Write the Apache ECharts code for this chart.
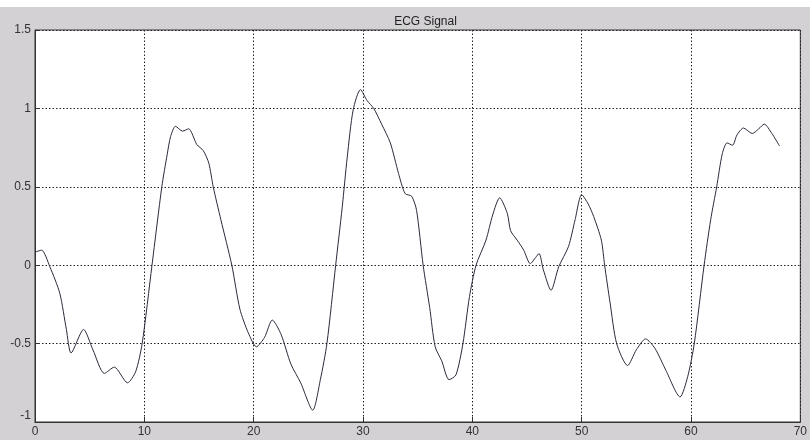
<!DOCTYPE html>
<html>
<head>
<meta charset="utf-8">
<script src="https://cdn.jsdelivr.net/npm/echarts@6/dist/echarts.min.js"></script>
<style>
  html, body { margin: 0; padding: 0; background: #ffffff; }
  #bg { position: absolute; left: 0; top: 7px; width: 810px; height: 433px; background: #d4d1d4; }
  #chart { position: absolute; left: 0; top: 0; width: 810px; height: 440px; }
</style>
</head>
<body>
<div id="bg"></div>
<div id="chart"></div>
<script>
const chartTitle = 'ECG Signal';
const xTicks = [0, 10, 20, 30, 40, 50, 60, 70];
const yTicks = [-1, -0.5, 0, 0.5, 1, 1.5];
const timeValues = [
  0, 0.6, 1.36, 2.27, 2.87, 3.3, 4.44, 5.3, 6.35, 7.25, 8.46, 9.2, 9.8, 10.7,
  11.6, 12.1, 12.4, 12.85, 13.5, 14.05, 14.8, 15.4, 15.9, 16.3, 17.0, 18.0,
  18.74, 19.5, 20.25, 21.0, 21.7, 22.5, 23.4, 24.3, 25.4, 26.1, 26.7, 27.5,
  28.1, 28.56, 29.1, 29.77, 30.37, 30.98, 31.7, 32.5, 33.25, 33.85, 34.45, 34.9,
  35.5, 36.1, 36.6, 37.2, 37.87, 38.5, 39.14, 39.74, 40.34, 41.25, 41.86, 42.5,
  43.2, 43.5, 44.1, 44.7, 45.3, 45.8, 46.1, 46.5, 47.2, 47.9, 48.8, 49.4,
  50.0, 50.6, 51.1, 51.8, 52.1, 52.6, 53.2, 54.2, 55.0, 55.85, 56.7, 57.7,
  59.0, 59.7, 60.3, 61.2, 61.8, 62.35, 62.86, 63.3, 63.8, 64.2, 64.8, 65.6,
  66.2, 66.7, 67.4, 68.1
];
const signalValues = [
  0.083, 0.096, -0.01, -0.18, -0.41, -0.56, -0.41, -0.54, -0.69, -0.65, -0.75, -0.68, -0.50, 0.0,
  0.5, 0.71, 0.82, 0.886, 0.855, 0.87, 0.77, 0.73, 0.65, 0.5, 0.29, 0.0,
  -0.28, -0.43, -0.52, -0.46, -0.35, -0.44, -0.63, -0.75, -0.925, -0.73, -0.5, 0.0,
  0.37, 0.69, 0.99, 1.12, 1.05, 1.0, 0.90, 0.78, 0.585, 0.457, 0.44, 0.35,
  0.0, -0.27, -0.52, -0.61, -0.73, -0.70, -0.50, -0.20, 0.0, 0.16, 0.32, 0.43,
  0.33, 0.22, 0.16, 0.096, 0.01, 0.05, 0.075, -0.03, -0.16, -0.01, 0.12, 0.29,
  0.45, 0.39, 0.31, 0.16, 0.0, -0.24, -0.50, -0.64, -0.54, -0.47, -0.53, -0.67,
  -0.84, -0.71, -0.50, 0.0, 0.29, 0.5, 0.71, 0.78, 0.765, 0.83, 0.875, 0.84,
  0.87, 0.90, 0.84, 0.76
];

const seriesData = timeValues.map((t, i) => [t, signalValues[i]]);
const gridLine = { show: true, lineStyle: { color: '#222', width: 1, type: [1.5, 2] } };
const labelStyle = { color: '#333', fontFamily: 'Liberation Sans, Arial, sans-serif', fontSize: 12 };

const chart = echarts.init(document.getElementById('chart'));
chart.setOption({
  backgroundColor: 'transparent',
  animation: false,
  title: {
    text: chartTitle,
    left: 420.5, top: 11, textAlign: 'center',
    textStyle: { color: '#222', fontFamily: 'Liberation Sans, Arial, sans-serif', fontSize: 12, fontWeight: 'normal' }
  },
  grid: {
    left: 35, right: 4, top: 30, bottom: 18,
    show: true, backgroundColor: '#ffffff', borderColor: '#333', borderWidth: 1
  },
  xAxis: {
    type: 'value', min: xTicks[0], max: xTicks[xTicks.length - 1], interval: 10,
    axisLine: { show: true, onZero: false, lineStyle: { color: '#333', width: 1 } },
    axisTick: { show: true, inside: true, length: 5, lineStyle: { color: '#333' } },
    axisLabel: Object.assign({ margin: 4 }, labelStyle),
    splitLine: gridLine
  },
  yAxis: {
    type: 'value', min: yTicks[0], max: yTicks[yTicks.length - 1], interval: 0.5,
    axisLine: { show: true, onZero: false, lineStyle: { color: '#333', width: 1 } },
    axisTick: { show: true, inside: true, length: 5, lineStyle: { color: '#333' } },
    axisLabel: Object.assign({ margin: 4, verticalAlignMinLabel: 'bottom' }, labelStyle),
    splitLine: gridLine
  },
  series: [{
    type: 'line',
    data: seriesData,
    smooth: 0.25,
    showSymbol: false,
    lineStyle: { color: '#2b2b3c', width: 1 },
    z: 3
  }]
});
</script>
</body>
</html>
